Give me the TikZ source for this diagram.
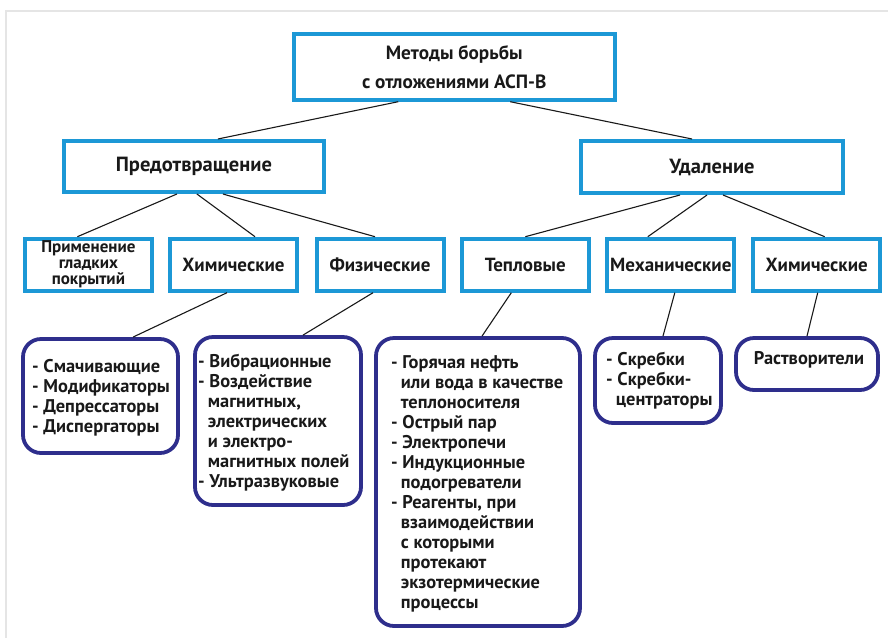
\documentclass[tikz,border=0pt]{standalone}
\usepackage{fontspec}
\setmainfont{PT Sans}
\definecolor{boxblue}{RGB}{28,152,214}
\definecolor{indigo}{RGB}{46,46,140}
\definecolor{framegray}{RGB}{229,229,229}
\definecolor{txt}{RGB}{25,25,25}
\newcommand\hi{\hphantom{-\,}}
\begin{document}
\begin{tikzpicture}[x=1pt,y=-1pt,
  bbox/.style={draw=boxblue,line width=4pt,fill=white,inner sep=0pt,align=center,
    font=\bfseries\fontsize{19}{20}\selectfont,text=txt},
  lvl3/.style={bbox,minimum width=127pt,minimum height=52pt},
  rbox/.style={draw=indigo,line width=3.8pt,rounded corners=18pt,inner sep=0pt},
  ltext/.style={anchor=north west,align=left,inner sep=0pt,text=txt,
    font=\bfseries\fontsize{18.4}{20}\selectfont},
  conn/.style={draw=black!90,line width=1.1pt}]
\useasboundingbox (0,0) rectangle (888,638);
\draw[framegray,line width=2pt] (6,638) -- (6,10.5) -- (888,10.5);

% level 1
\node[bbox,minimum width=321pt,minimum height=66pt,font=\bfseries\fontsize{19.2}{29}\selectfont] (top) at (454.2,66.7)
  {Методы борьбы\\с отложениями АСП-В};
% level 2
\node[bbox,minimum width=260pt,minimum height=51pt,font=\bfseries\fontsize{20.5}{20}\selectfont] (pred) at (193.9,166.5) {Предотвращение};
\node[bbox,minimum width=262pt,minimum height=52pt,font=\bfseries\fontsize{20.5}{20}\selectfont] (udal) at (712,167) {Удаление};
% level 3
\node[lvl3,font=\bfseries\fontsize{17}{16}\selectfont] (prim) at (88.4,264.7) {Применение\\гладких\\покрытий};
\node[lvl3] (him) at (233.5,264.7) {Химические};
\node[lvl3] (fiz) at (380,264.7) {Физические};
\node[lvl3] (tepl) at (525.3,264.7) {Тепловые};
\node[lvl3] (mech) at (670.8,264.7) {Механические};
\node[lvl3] (him2) at (816.7,264.7) {Химические};
% level 4 boxes
\node[rbox,minimum width=155pt,minimum height=114pt] (smach) at (100.5,396) {};
\node[rbox,minimum width=166pt,minimum height=168pt] (vibr) at (278,421) {};
\node[rbox,minimum width=204pt,minimum height=288pt] (list) at (478,482) {};
\node[rbox,minimum width=126pt,minimum height=85pt] (skreb) at (658,380.5) {};
\node[rbox,minimum width=142pt,minimum height=52pt] (rastv) at (807,364) {};
% level 4 texts
\node[ltext] (tsmach) at (32,359.5) {- Смачивающие\\- Модификаторы\\- Депрессаторы\\- Диспергаторы};
\node[ltext] (tvibr) at (198,354) {- Вибрационные\\- Воздействие\\\hi магнитных,\\\hi электрических\\\hi и электро-\\\hi магнитных полей\\- Ультразвуковые};
\node[ltext] (tlist) at (391,355) {- Горячая нефть\\\hi или вода в качестве\\\hi теплоносителя\\- Острый пар\\- Электропечи\\- Индукционные\\\hi подогреватели\\- Реагенты, при\\\hi взаимодействии\\\hi с которыми\\\hi протекают\\\hi экзотермические\\\hi процессы};
\node[ltext] (tskreb) at (606,352) {- Скребки\\- Скребки-\\\hi центраторы};
\node[ltext,anchor=north] (trastv) at (809,351) {Растворители};

% connectors
\draw[conn] ([xshift=-56pt]top.south) -- ([xshift=24pt]pred.north);
\draw[conn] ([xshift=56pt]top.south) -- ([xshift=-20pt]udal.north);
\draw[conn] ([xshift=-17pt]pred.south) -- ([xshift=-11pt]prim.north);
\draw[conn] ([xshift=3pt]pred.south) -- ([xshift=21.5pt]him.north);
\draw[conn] ([xshift=29pt]pred.south) -- ([xshift=-5pt]fiz.north);
\draw[conn] ([xshift=-32pt]udal.south) -- (tepl.north);
\draw[conn] ([xshift=-5pt]udal.south) -- ([xshift=-23pt]mech.north);
\draw[conn] ([xshift=11pt]udal.south) -- ([xshift=8pt]him2.north);
\draw[conn] ([xshift=-6.5pt]him.south) -- ([xshift=32.5pt]smach.north);
\draw[conn] ([xshift=-7pt]fiz.south) -- ([xshift=25pt]vibr.north);
\draw[conn] ([xshift=-14pt]tepl.south) -- ([xshift=4pt]list.north);
\draw[conn] ([xshift=4pt]mech.south) -- ([xshift=5pt]skreb.north);
\draw[conn] ([xshift=1pt]him2.south) -- (rastv.north);
\end{tikzpicture}
\end{document}
